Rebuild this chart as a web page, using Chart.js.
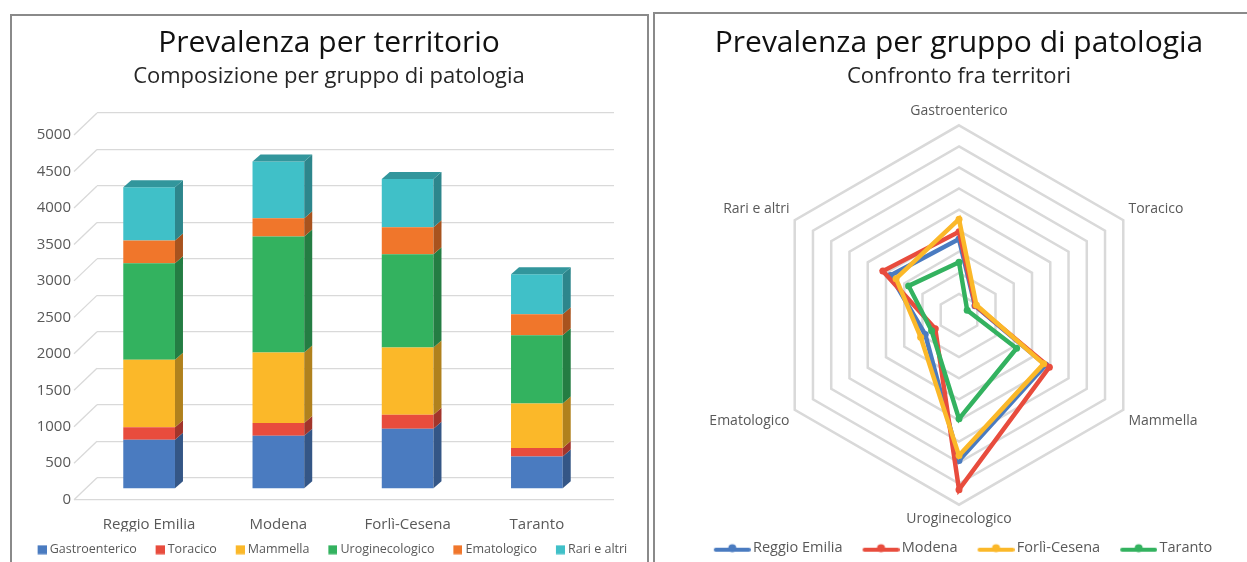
<!DOCTYPE html>
<html>
<head>
<meta charset="utf-8">
<script src="https://cdn.jsdelivr.net/npm/chart.js@4"></script>
<style>
  html, body { margin: 0; padding: 0; background: #fff; overflow: hidden; }
  body { width: 1247px; height: 562px; position: relative; }
  .panel { position: absolute; border: 2px solid #8a8a8a; box-sizing: border-box; }
  #left-panel { left: 10px; top: 14px; width: 639px; height: 580px; }
  #right-panel { left: 653px; top: 12px; width: 620px; height: 580px; }
  canvas { position: absolute; }
  #bar-chart { left: 12px; top: 14px; }
  #radar-chart { left: 656px; top: 14px; }
</style>
</head>
<body>
<div class="panel" id="left-panel"></div>
<div class="panel" id="right-panel"></div>
<canvas id="bar-chart" width="634" height="552"></canvas>
<canvas id="radar-chart" width="591" height="551"></canvas>
<script>
// --- Data ---
const territories = ["Reggio Emilia", "Modena", "Forlì-Cesena", "Taranto"];
const groups = ["Gastroenterico", "Toracico", "Mammella", "Uroginecologico", "Ematologico", "Rari e altri"];

// stacked bars, one array per group (order: territories)
const gastroenterico = [676, 731, 826, 447];
const toracico = [169, 174, 192, 114];
const mammella = [927, 968, 922, 612];
const uroginecologico = [1324, 1589, 1279, 936];
const ematologico = [311, 251, 370, 288];
const rariEAltri = [731, 776, 662, 548];

// radar, one array per territory (order: groups)
const radarReggioEmilia = [720, 175, 950, 1381, 370, 751];
const radarModena = [790, 180, 990, 1657, 260, 834];
const radarForliCesena = [909, 190, 927, 1334, 420, 690];
const radarTaranto = [500, 90, 631, 985, 300, 552];

const yTickStep = 500;
const yMax = 5000;
const radarMax = 1800;
const radarStep = 200;

// --- Styles ---
const groupColors = ["#4a7bc0", "#e84c3d", "#fbb829", "#33b25f", "#f0762b", "#40c0c8"];
const territoryColors = ["#4a7bc0", "#e84c3d", "#fbb829", "#33b25f"];
const FONT = "'Open Sans', 'Noto Sans', sans-serif";
const TEXT = "#595959";

function shade(hex, f) {
  const n = parseInt(hex.slice(1), 16);
  const r = Math.round(((n >> 16) & 255) * f);
  const g = Math.round(((n >> 8) & 255) * f);
  const b = Math.round((n & 255) * f);
  return `rgb(${r},${g},${b})`;
}

// 3D look: bars sit in front of the back wall, with a side and top face
const SHIFT_X = -12.5, SHIFT_Y = 11.3; // back wall -> bar front face
const DX = 8, DY = 7;                 // bar depth
const FLOOR_DX = 23, FLOOR_DY = 22;   // back wall -> front edge

const bar3d = {
  id: "bar3d",
  beforeDatasetsDraw(chart) {
    const ctx = chart.ctx;
    const ys = chart.scales.y;
    const { left, right } = chart.chartArea;
    ctx.save();
    ctx.strokeStyle = "#d9d9d9";
    ctx.lineWidth = 1.3;
    ys.ticks.forEach((t) => {
      const py = ys.getPixelForValue(t.value);
      ctx.beginPath();
      ctx.moveTo(left - FLOOR_DX, py + FLOOR_DY);
      ctx.lineTo(left, py);
      ctx.stroke();
    });
    const p0 = ys.getPixelForValue(0);
    ctx.beginPath();
    ctx.moveTo(left - FLOOR_DX, p0 + FLOOR_DY);
    ctx.lineTo(right, p0 + FLOOR_DY);
    ctx.stroke();
    ctx.restore();

    ctx.save();
    ctx.translate(SHIFT_X, SHIFT_Y);
  },
  afterDatasetsDraw(chart) {
    const ctx = chart.ctx;
    const last = chart.data.datasets.length - 1;
    chart.data.datasets.forEach((ds, di) => {
      chart.getDatasetMeta(di).data.forEach((bar) => {
        const { x, y, base, width } = bar.getProps(["x", "y", "base", "width"], true);
        const l = x - width / 2;
        const r = x + width / 2;
        ctx.fillStyle = shade(ds.backgroundColor, 0.7);
        ctx.beginPath();
        ctx.moveTo(r, y);
        ctx.lineTo(r + DX, y - DY);
        ctx.lineTo(r + DX, base - DY);
        ctx.lineTo(r, base);
        ctx.closePath();
        ctx.fill();
        if (di === last) {
          ctx.fillStyle = shade(ds.backgroundColor, 0.78);
          ctx.beginPath();
          ctx.moveTo(l, y);
          ctx.lineTo(l + DX, y - DY);
          ctx.lineTo(r + DX, y - DY);
          ctx.lineTo(r, y);
          ctx.closePath();
          ctx.fill();
        }
      });
    });
    ctx.restore();
  },
};

// legend marks drawn into small canvases (used as point styles)
function squareMark(color) {
  const c = document.createElement("canvas");
  c.width = 19;
  c.height = 10;
  const g = c.getContext("2d");
  g.fillStyle = color;
  g.fillRect(10, 0.5, 9, 9);
  return c;
}
function lineMark(color) {
  const c = document.createElement("canvas");
  c.width = 50;
  c.height = 12;
  const g = c.getContext("2d");
  g.strokeStyle = color;
  g.fillStyle = color;
  g.lineWidth = 4;
  g.lineCap = "round";
  g.beginPath();
  g.moveTo(15, 8);
  g.lineTo(48, 8);
  g.stroke();
  g.beginPath();
  g.arc(31.5, 6.5, 4, 0, Math.PI * 2);
  g.fill();
  return c;
}
const squareMarks = groupColors.map(squareMark);
const lineMarks = territoryColors.map(lineMark);

const barSeries = [gastroenterico, toracico, mammella, uroginecologico, ematologico, rariEAltri];

new Chart(document.getElementById("bar-chart"), {
  type: "bar",
  data: {
    labels: territories,
    datasets: barSeries.map((values, i) => ({
      label: groups[i],
      data: values,
      backgroundColor: groupColors[i],
      borderWidth: 0,
      categoryPercentage: 1,
      barPercentage: 0.4,
    })),
  },
  options: {
    responsive: false,
    animation: false,
    layout: { padding: 0 },
    scales: {
      x: {
        stacked: true,
        grid: { display: false },
        border: { display: false },
        ticks: { color: TEXT, font: { family: FONT, size: 15 }, padding: 30.3, labelOffset: SHIFT_X },
        afterFit: (s) => { s.height = 53.8; },
      },
      y: {
        stacked: true,
        min: 0,
        max: yMax,
        ticks: {
          stepSize: yTickStep,
          color: TEXT,
          font: { family: FONT, size: 15 },
          padding: 26,
          labelOffset: FLOOR_DY,
          callback: (v) => String(v),
        },
        grid: { color: "#d9d9d9", lineWidth: 1.3, drawTicks: false },
        border: { display: false },
        afterFit: (s) => { s.width = 85; },
      },
      y2: {
        position: "right",
        display: true,
        grid: { display: false },
        border: { display: false },
        ticks: { display: false },
        afterFit: (s) => { s.width = 32; },
      },
    },
    plugins: {
      title: {
        display: true,
        text: "Prevalenza per territorio",
        color: "#111",
        font: { family: FONT, size: 30, weight: "normal" },
        padding: { top: 11.5, bottom: 0 },
      },
      subtitle: {
        display: true,
        text: "Composizione per gruppo di patologia",
        color: "#262626",
        font: { family: FONT, size: 22, weight: "normal" },
        padding: { top: 2, bottom: 23.1 },
      },
      legend: {
        position: "bottom",
        labels: {
          usePointStyle: true,
          pointStyleWidth: 12.75,
          padding: 12,
          color: TEXT,
          font: { family: FONT, size: 12.5 },
          generateLabels: (chart) =>
            Chart.defaults.plugins.legend.labels.generateLabels(chart).map((l) => ({
              ...l,
              pointStyle: squareMarks[l.datasetIndex],
            })),
        },
      },
      tooltip: { enabled: false },
    },
  },
  plugins: [bar3d],
});

const radarSeries = [radarReggioEmilia, radarModena, radarForliCesena, radarTaranto];

new Chart(document.getElementById("radar-chart"), {
  type: "radar",
  data: {
    labels: groups,
    datasets: radarSeries.map((values, i) => ({
      label: territories[i],
      data: values,
      borderColor: territoryColors[i],
      backgroundColor: territoryColors[i],
      pointBackgroundColor: territoryColors[i],
      pointBorderWidth: 0,
      pointRadius: 3.5,
      borderWidth: 4.5,
      fill: false,
      order: radarSeries.length - i,
    })),
  },
  options: {
    responsive: false,
    animation: false,
    layout: { padding: { left: 15, right: 0, top: 0, bottom: 0 } },
    scales: {
      r: {
        min: 0,
        max: radarMax,
        ticks: { display: false, stepSize: radarStep },
        grid: { color: "#d9d9d9", lineWidth: 2.5 },
        angleLines: { display: false },
        pointLabels: { color: TEXT, font: { family: FONT, size: 14 }, padding: 6 },
      },
    },
    plugins: {
      title: {
        display: true,
        text: "Prevalenza per gruppo di patologia",
        color: "#111",
        font: { family: FONT, size: 30, weight: "normal" },
        padding: { top: 11.5, bottom: 0 },
      },
      subtitle: {
        display: true,
        text: "Confronto fra territori",
        color: "#262626",
        font: { family: FONT, size: 22, weight: "normal" },
        padding: { top: 2, bottom: 12.6 },
      },
      legend: {
        position: "bottom",
        labels: {
          usePointStyle: true,
          pointStyleWidth: 40,
          padding: 12,
          color: TEXT,
          font: { family: FONT, size: 14.5 },
          sort: (a, b) => a.datasetIndex - b.datasetIndex,
          generateLabels: (chart) =>
            Chart.defaults.plugins.legend.labels.generateLabels(chart).map((l) => ({
              ...l,
              pointStyle: lineMarks[l.datasetIndex],
            })),
        },
      },
      tooltip: { enabled: false },
    },
  },
});
</script>
</body>
</html>
